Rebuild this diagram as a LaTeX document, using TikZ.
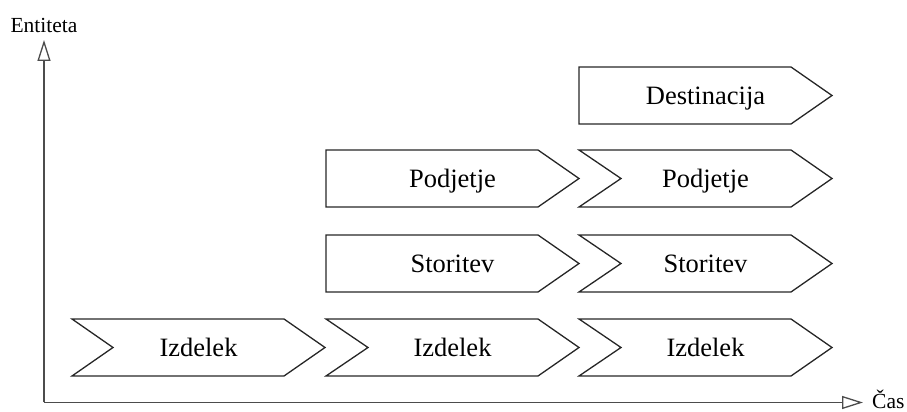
\documentclass[tikz,border=0pt]{standalone}
\usepackage{fontspec}
\setmainfont{Liberation Serif}
\usetikzlibrary{arrows.meta}

% Chevron box: #1 name, #2 left x, #3 top y, #4 notch depth (0 = flat left end), #5 label
\newcommand\chevbox[5]{%
  \draw[boxline] (#2,#3) -- ++(212,0) -- ++(41,-28.5) -- ++(-41,-28.5)
    -- ++(-212,0) -- ++(#4,28.5) -- cycle;
  \node[boxlabel] (#1) at (#2+126.5,#3-37.5) {#5};
}

\begin{document}
\begin{tikzpicture}[x=1pt,y=1pt,
  boxline/.style={draw=black!85, line width=1.3pt, line join=miter},
  boxlabel/.style={anchor=base, inner sep=0pt, font=\fontsize{26.5}{30}\selectfont},
  axislabel/.style={inner sep=0pt, font=\fontsize{21.5}{24}\selectfont},
  axisline/.style={draw=black!70, line width=1.6pt,
    -{Triangle[open, length=21pt, width=13pt, line width=1.3pt]}}
]
\useasboundingbox (0,0) rectangle (907,412);

% axes
\coordinate (origin) at (44,9.5);
\coordinate (ytop) at (44,372);
\coordinate (xend) at (863,9.5);
\draw[axisline] (origin) -- (ytop);
\draw[axisline] (origin) -- (xend);
\node[axislabel, anchor=base] (entiteta) at (44,379) {Entiteta};
\node[axislabel, anchor=base west] (cas) at (872,3) {Čas};

% row 1
\chevbox{destinacija3}{579}{345}{0}{Destinacija}
% row 2
\chevbox{podjetje2}{326}{262}{0}{Podjetje}
\chevbox{podjetje3}{579}{262}{42}{Podjetje}
% row 3
\chevbox{storitev2}{326}{177}{0}{Storitev}
\chevbox{storitev3}{579}{177}{42}{Storitev}
% row 4
\chevbox{izdelek1}{72}{93}{41}{Izdelek}
\chevbox{izdelek2}{326}{93}{42}{Izdelek}
\chevbox{izdelek3}{579}{93}{42}{Izdelek}
\end{tikzpicture}
\end{document}
